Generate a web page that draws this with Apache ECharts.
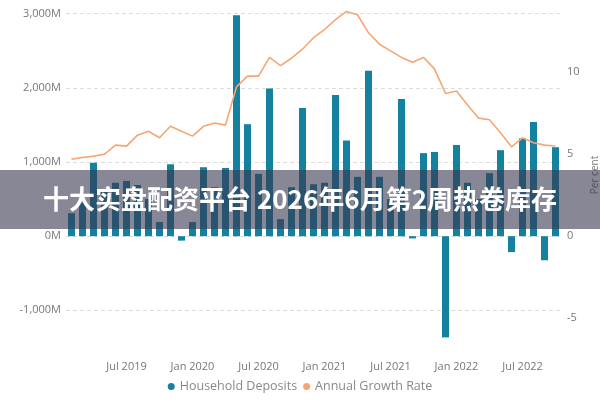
<!DOCTYPE html>
<html lang="zh">
<head>
<meta charset="utf-8">
<title>Household Deposits</title>
<script src="https://cdn.jsdelivr.net/npm/echarts@6/dist/echarts.min.js"></script>
<style>
  html, body { margin: 0; padding: 0; background: #fff; }
  #container { width: 600px; height: 400px; }
</style>
</head>
<body>
<div id="container"></div>
<script>
    // monthly, Feb 2019 .. Oct 2022
    var months = [];
    (function () {
        var names = ['Jan','Feb','Mar','Apr','May','Jun','Jul','Aug','Sep','Oct','Nov','Dec'];
        var y = 2019, m = 1;
        for (var i = 0; i < 45; i++) {
            months.push(names[m] + ' ' + y);
            m++;
            if (m == 12) { m = 0; y++; }
        }
    })();

    // household deposits, $M
    var deposits = [
        310, 450, 990, 600, 720, 745, 690, 500, 190, 970, -60,
        190, 930, 660, 920, 2980, 1510, 840, 1990, 230, 660, 1730, 700,
        720, 1905, 1290, 800, 2230, 800, 500, 1850, -30, 1120, 1135, -1365,
        1230, 720, 500, 850, 1160, -215, 1320, 1540, -325, 1200
    ];

    // annual growth rate, per cent
    var growth = [
        4.70, 4.80, 4.88, 5.00, 5.55, 5.49, 6.16, 6.40, 6.00, 6.70, 6.40,
        6.10, 6.70, 6.90, 6.77, 9.10, 9.76, 9.76, 10.9, 10.4, 10.85, 11.4, 12.1,
        12.6, 13.2, 13.7, 13.5, 12.4, 11.7, 11.3, 10.9, 10.6, 10.9, 10.2, 8.7,
        8.85, 8.0, 7.2, 7.1, 6.3, 5.45, 6.0, 5.7, 5.55, 5.5
    ];

    var leftTicks = [-1000, 0, 1000, 2000, 3000];
    var rightTicks = [-5, 0, 5, 10];
    var xTickLabels = ['Jul 2019', 'Jan 2020', 'Jul 2020', 'Jan 2021', 'Jul 2021', 'Jan 2022', 'Jul 2022'];

    var bannerText = '十大实盘配资平台 2026年6月第2周热卷库存';

    var myChart = echarts.init(document.getElementById('container'), null, { renderer: 'canvas' });
    var labelColor = '#777';
    var font = '"Open Sans", "Noto Sans", sans-serif';

    var option = {
        animation: false,
        textStyle: { fontFamily: font },
        grid: { left: 66, right: 39, top: 10, bottom: 60, outerBoundsMode: 'none' },
        legend: {
            bottom: 2,
            left: 'center',
            icon: 'circle',
            itemWidth: 7,
            itemHeight: 7,
            itemGap: 6,
            textStyle: { color: '#888', fontSize: 12.5, fontFamily: font },
            data: ['Household Deposits', 'Annual Growth Rate']
        },
        xAxis: {
            type: 'category',
            data: months,
            axisLine: { show: false },
            axisTick: { show: false },
            axisLabel: {
                color: labelColor,
                fontSize: 11,
                margin: 21,
                interval: function (idx, val) { return xTickLabels.indexOf(val) >= 0; }
            }
        },
        yAxis: [
            {
                type: 'value',
                min: -1400,
                max: 3050,
                axisLine: { show: false },
                axisTick: { show: false, customValues: leftTicks },
                axisLabel: {
                    customValues: leftTicks,
                    color: labelColor,
                    fontSize: 11,
                    margin: 5,
                    formatter: function (v) {
                        return (v < 0 ? '-' : '') + Math.abs(v).toLocaleString('en-US') + 'M';
                    }
                },
                splitLine: { show: true, lineStyle: { color: '#dcdcdc', type: [4, 3], width: 1 } }
            },
            {
                type: 'value',
                min: -6.33,
                max: 13.79,
                name: 'Per cent',
                nameLocation: 'middle',
                nameGap: 27,
                nameTextStyle: { color: labelColor, fontSize: 10 },
                axisLine: { show: false },
                axisTick: { show: false, customValues: rightTicks },
                axisLabel: { customValues: rightTicks, color: labelColor, fontSize: 11, margin: 6 },
                splitLine: { show: false }
            }
        ],
        series: [
            {
                name: 'Household Deposits',
                type: 'bar',
                data: deposits,
                barWidth: 7,
                itemStyle: { color: '#14819f' }
            },
            {
                name: 'Annual Growth Rate',
                type: 'line',
                yAxisIndex: 1,
                data: growth,
                symbol: 'none',
                lineStyle: { color: '#f5a673', width: 1.6 },
                itemStyle: { color: '#f5a673' }
            }
        ],
        graphic: [
            {
                type: 'rect',
                left: 0,
                top: 170,
                shape: { width: 600, height: 59 },
                style: { fill: 'rgba(55,55,80,0.6)' },
                z: 100
            },
            {
                type: 'text',
                left: 'center',
                top: 186,
                style: {
                    text: bannerText,
                    fill: '#fff',
                    font: 'bold 26px "Noto Sans CJK SC", sans-serif'
                },
                z: 101
            }
        ]
    };
    myChart.setOption(option);
</script>
</body>
</html>
